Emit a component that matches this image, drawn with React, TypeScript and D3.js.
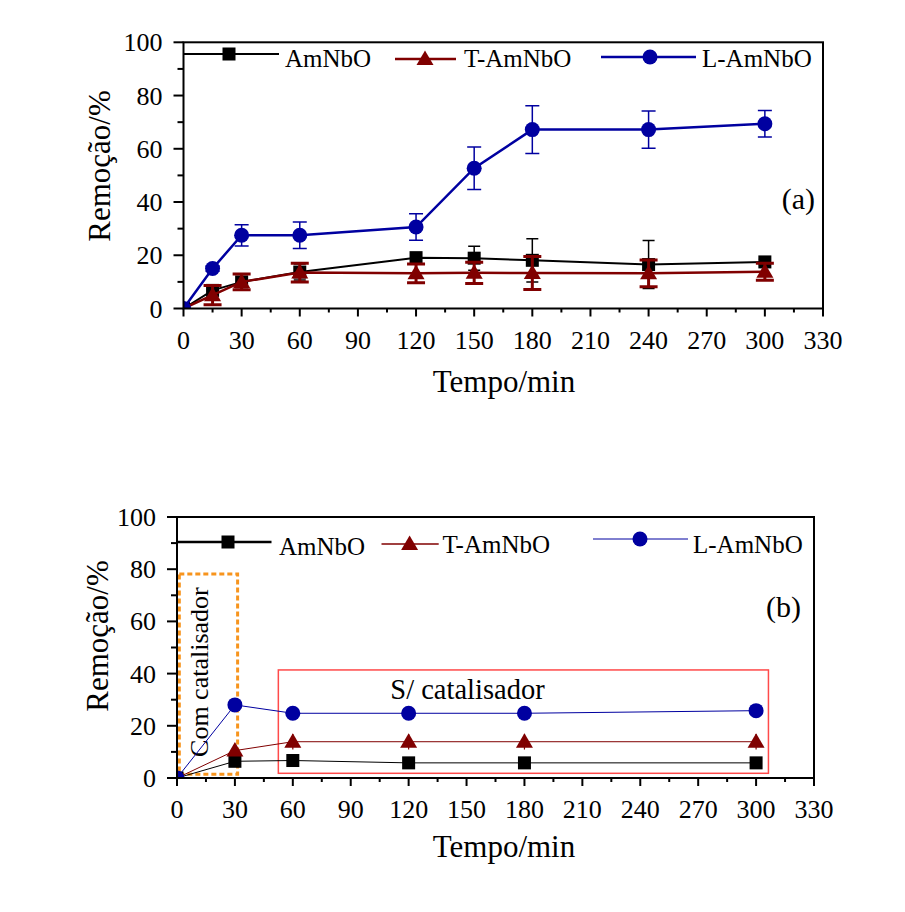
import React from 'react';
import * as d3 from 'd3';

// ---------- data ----------
const seriesNames = ['AmNbO', 'T-AmNbO', 'L-AmNbO'];

const timesA = [0, 15, 30, 60, 120, 150, 180, 240, 300];
const amA = [0, 6.8, 10, 13.7, 19.1, 18.9, 18.1, 16.5, 17.5];
const amAErr = [0, 1.5, 3, 3, 1.5, 4.5, 8.1, 9, 1];
const tA = [0, 5, 10, 13.5, 13.2, 13.4, 13.3, 13.2, 13.8];
const tAErr = [0, 3.6, 3, 3.5, 3.5, 4, 6.2, 5, 3.2];
const lA = [0, 15, 27.5, 27.5, 30.6, 52.7, 67.2, 67.2, 69.4];
const lAErr = [0, 1, 4, 5, 5, 8, 9, 7, 5];

const timesB = [0, 30, 60, 120, 180, 300];
const amB = [0, 6.4, 6.7, 5.8, 5.8, 5.8];
const tB = [0, 10.5, 13.9, 13.9, 13.9, 13.9];
const tBErr = [0, 0, 3, 3, 3, 3];
const lB = [0, 28, 24.8, 24.8, 24.8, 25.8];

const xTicks = d3.range(0, 331, 30);
const xMinor = d3.range(15, 331, 30);
const yTicks = d3.range(0, 101, 20);
const yMinor = d3.range(10, 101, 20);

// annotation boxes in data units (panel b)
const comBox = { x0: 1.2, x1: 31.4, y0: 1.4, y1: 78.2 };
const semBox = { x0: 52.5, x1: 306.4, y0: 1.8, y1: 41.4 };

const FONT = '"Liberation Serif", "Times New Roman", Times, "DejaVu Serif", serif';
const BLACK = '#000000';
const RED = '#800000';
const BLUE = '#0000a0';

type MarkerKind = 'square' | 'triangle' | 'circle';

function Marker({ kind, x, y, color }: { kind: MarkerKind; x: number; y: number; color: string }) {
  if (kind === 'square') return <rect x={x - 6.5} y={y - 6.5} width={13} height={13} fill={color} />;
  if (kind === 'triangle')
    return <path d={`M${x},${y - 8.5}L${x + 8.5},${y + 6}L${x - 8.5},${y + 6}Z`} fill={color} />;
  return <circle cx={x} cy={y} r={7.5} fill={color} />;
}

type Series = {
  values: number[];
  errors?: number[];
  color: string;
  marker: MarkerKind;
  lineWidth: number;
  errWidth: number;
  capW: number;
  caps: boolean;
};

type LegendItem = {
  name: string;
  color: string;
  marker: MarkerKind;
  x0: number;
  x1: number;
  y: number;
  mx: number;
  tx: number;
  ty: number;
  lw: number;
};

type PanelProps = {
  id: string;
  xRange: [number, number];
  yRange: [number, number];
  times: number[];
  series: Series[];
  legend: LegendItem[];
  tag: { text: string; x: number; y: number };
  xTitle: { x: number; y: number };
  yTitle: { x: number; y: number };
  children?: (x: d3.ScaleLinear<number, number>, y: d3.ScaleLinear<number, number>) => React.ReactNode;
};

const tStyle = { fontFamily: FONT };

function Panel({ id, xRange, yRange, times, series, legend, tag, xTitle, yTitle, children }: PanelProps) {
  const x = d3.scaleLinear().domain([0, 330]).range(xRange);
  const y = d3.scaleLinear().domain([0, 100]).range(yRange);
  const [xl, xr] = xRange;
  const [yb, yt] = yRange;
  const line = d3
    .line<number>()
    .x((_, i) => x(times[i]))
    .y((d) => y(d));
  return (
    <g style={tStyle}>
      <defs>
        <clipPath id={`clip-${id}`}>
          <rect x={xl} y={yt} width={xr - xl} height={yb - yt} />
        </clipPath>
      </defs>
      {children && children(x, y)}
      <g clipPath={`url(#clip-${id})`}>
        {series.map((s, si) => (
          <g key={si}>
            <path d={line(s.values) || ''} fill="none" stroke={s.color} strokeWidth={s.lineWidth} />
            {s.errors &&
              s.values.map((v, i) => {
                const e = s.errors![i];
                if (!e) return null;
                const cx = x(times[i]);
                const y1 = y(v + e);
                const y2 = y(v - e);
                return (
                  <g key={i} stroke={s.color} strokeWidth={s.errWidth}>
                    <line x1={cx} x2={cx} y1={y1} y2={y2} />
                    {s.caps && <line x1={cx - s.capW / 2} x2={cx + s.capW / 2} y1={y1} y2={y1} />}
                    {s.caps && <line x1={cx - s.capW / 2} x2={cx + s.capW / 2} y1={y2} y2={y2} />}
                  </g>
                );
              })}
            {s.values.map((v, i) => (
              <Marker key={i} kind={s.marker} x={x(times[i])} y={y(v)} color={s.color} />
            ))}
          </g>
        ))}
      </g>
      {/* frame */}
      <rect x={xl} y={yt} width={xr - xl} height={yb - yt} fill="none" stroke="#000" strokeWidth={2} />
      {/* x ticks */}
      {xTicks.map((t) => (
        <g key={`xt${t}`}>
          <line x1={x(t)} x2={x(t)} y1={yb} y2={yb + 8} stroke="#000" strokeWidth={2} />
          <text x={x(t)} y={yb + 40} textAnchor="middle" fontSize={26} style={tStyle}>
            {t}
          </text>
        </g>
      ))}
      {xMinor.map((t) => (
        <line key={`xm${t}`} x1={x(t)} x2={x(t)} y1={yb} y2={yb + 4} stroke="#000" strokeWidth={2} />
      ))}
      {/* y ticks */}
      {yTicks.map((t) => (
        <g key={`yt${t}`}>
          <line x1={xl - 10} x2={xl} y1={y(t)} y2={y(t)} stroke="#000" strokeWidth={2} />
          <text x={xl - 21} y={y(t) + 9} textAnchor="end" fontSize={26} style={tStyle}>
            {t}
          </text>
        </g>
      ))}
      {yMinor.map((t) => (
        <line key={`ym${t}`} x1={xl - 6} x2={xl} y1={y(t)} y2={y(t)} stroke="#000" strokeWidth={2} />
      ))}
      {/* titles */}
      <text x={xTitle.x} y={xTitle.y} textAnchor="middle" fontSize={31} style={tStyle}>
        Tempo/min
      </text>
      <text
        transform={`translate(${yTitle.x},${yTitle.y}) rotate(-90)`}
        textAnchor="middle"
        fontSize={31}
        style={tStyle}
      >
        Remoção/%
      </text>
      {/* legend */}
      {legend.map((l) => (
        <g key={l.name}>
          <line x1={l.x0} x2={l.x1} y1={l.y} y2={l.y} stroke={l.color} strokeWidth={l.lw} />
          <Marker kind={l.marker} x={l.mx} y={l.y} color={l.color} />
          <text x={l.tx} y={l.ty} fontSize={25} style={tStyle}>
            {l.name}
          </text>
        </g>
      ))}
      <text x={tag.x} y={tag.y} textAnchor="end" fontSize={30} style={tStyle}>
        {tag.text}
      </text>
    </g>
  );
}

export default function App() {
  const seriesA: Series[] = [
    { values: amA, errors: amAErr, color: BLACK, marker: 'square', lineWidth: 2, errWidth: 1.5, capW: 12, caps: true },
    { values: tA, errors: tAErr, color: RED, marker: 'triangle', lineWidth: 2.5, errWidth: 3, capW: 18, caps: true },
    { values: lA, errors: lAErr, color: BLUE, marker: 'circle', lineWidth: 2.5, errWidth: 1.5, capW: 14, caps: true },
  ];
  const seriesB: Series[] = [
    { values: amB, color: BLACK, marker: 'square', lineWidth: 1, errWidth: 1, capW: 0, caps: false },
    { values: tB, errors: tBErr, color: RED, marker: 'triangle', lineWidth: 1, errWidth: 1.2, capW: 0, caps: false },
    { values: lB, color: BLUE, marker: 'circle', lineWidth: 1, errWidth: 1, capW: 0, caps: false },
  ];
  const markers: MarkerKind[] = ['square', 'triangle', 'circle'];
  const colors = [BLACK, RED, BLUE];
  const legendA: LegendItem[] = [
    { x0: 183.5, x1: 279, y: 54, mx: 229, tx: 285, ty: 67, lw: 2 },
    { x0: 395, x1: 456, y: 59, mx: 425, tx: 464, ty: 67, lw: 2.5 },
    { x0: 601, x1: 696, y: 57, mx: 650, tx: 702, ty: 67, lw: 2.5 },
  ].map((p, i) => ({ ...p, name: seriesNames[i], color: colors[i], marker: markers[i] }));
  const legendB: LegendItem[] = [
    { x0: 177, x1: 271.5, y: 542, mx: 228, tx: 279, ty: 555, lw: 2.5 },
    { x0: 381.5, x1: 438.7, y: 544, mx: 409.6, tx: 442.6, ty: 553, lw: 1.5 },
    { x0: 593, x1: 688, y: 539, mx: 640, tx: 693, ty: 553, lw: 1 },
  ].map((p, i) => ({ ...p, name: seriesNames[i], color: colors[i], marker: markers[i] }));

  return (
    <svg
      width={905}
      height={912}
      viewBox="0 0 905 912"
      style={{ position: 'absolute', left: 0, top: 0, background: '#fff' }}
    >
      <rect x={0} y={0} width={905} height={912} fill="#fff" />
      <Panel
        id="a"
        xRange={[183.5, 823]}
        yRange={[308.5, 42.3]}
        times={timesA}
        series={seriesA}
        legend={legendA}
        tag={{ text: '(a)', x: 815, y: 209 }}
        xTitle={{ x: 504, y: 392 }}
        yTitle={{ x: 110, y: 166 }}
      />
      <Panel
        id="b"
        xRange={[177, 814]}
        yRange={[778, 517]}
        times={timesB}
        series={seriesB}
        legend={legendB}
        tag={{ text: '(b)', x: 801, y: 617 }}
        xTitle={{ x: 504, y: 857 }}
        yTitle={{ x: 108, y: 636 }}
      >
        {(x, y) => (
          <g>
            <rect
              x={x(comBox.x0)}
              y={y(comBox.y1)}
              width={x(comBox.x1) - x(comBox.x0)}
              height={y(comBox.y0) - y(comBox.y1)}
              fill="none"
              stroke="#f7941d"
              strokeWidth={3}
              strokeDasharray="5,3"
            />
            <rect
              x={x(semBox.x0)}
              y={y(semBox.y1)}
              width={x(semBox.x1) - x(semBox.x0)}
              height={y(semBox.y0) - y(semBox.y1)}
              fill="none"
              stroke="#ff4a4a"
              strokeWidth={1.5}
            />
            <text
              transform={`translate(${x(comBox.x0) + 29},${(y(comBox.y0) + y(comBox.y1)) / 2 - 2}) rotate(-90)`}
              textAnchor="middle"
              fontSize={26}
              style={tStyle}
            >
              Com catalisador
            </text>
            <text x={x(semBox.x0) + 112} y={y(semBox.y1) + 29} fontSize={28.5} style={tStyle}>
              S/ catalisador
            </text>
          </g>
        )}
      </Panel>
    </svg>
  );
}
